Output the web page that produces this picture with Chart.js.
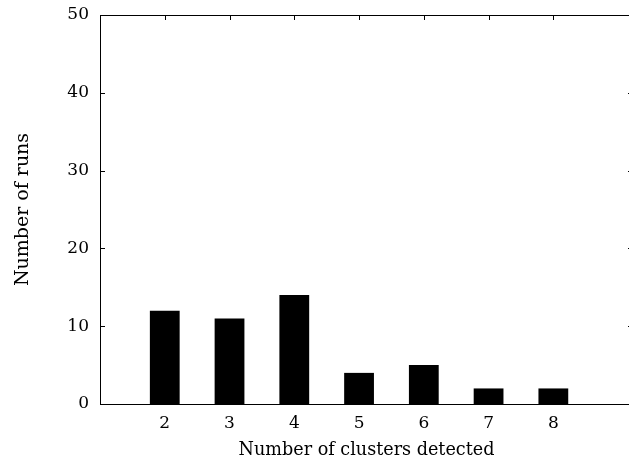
<!DOCTYPE html>
<html>
<head>
<meta charset="utf-8">
<script src="https://cdn.jsdelivr.net/npm/chart.js@4"></script>
<style>
  html, body { margin: 0; padding: 0; background: #fff; overflow: hidden; }
</style>
</head>
<body>
<canvas id="stage" width="636" height="464"></canvas>
<script>
// データ
var clusters = [2, 3, 4, 5, 6, 7, 8];
var runs = [12, 11, 14, 4, 5, 2, 2];
var yTicks = [0, 10, 20, 30, 40, 50];

var serif = "'DejaVu Serif', 'Liberation Serif', serif";

// 内向きの目盛りと枠
var frame = {
    id: 'frame',
    afterDraw: function (chart) {
        var ctx = chart.ctx, a = chart.chartArea;
        var xs = chart.scales.x, ys = chart.scales.y;
        var len = 5;
        ctx.save();
        ctx.strokeStyle = '#000';
        ctx.lineWidth = 1;
        ctx.beginPath();
        ctx.rect(Math.round(a.left) + 0.5, Math.round(a.top) + 0.5,
                 Math.round(a.right - a.left), Math.round(a.bottom - a.top));
        xs.ticks.forEach(function (t) {
            var px = Math.round(xs.getPixelForValue(t.value)) + 0.5;
            ctx.moveTo(px, a.top); ctx.lineTo(px, a.top + len);
            ctx.moveTo(px, a.bottom); ctx.lineTo(px, a.bottom - len);
        });
        ys.ticks.forEach(function (t) {
            var py = Math.round(ys.getPixelForValue(t.value)) + 0.5;
            ctx.moveTo(a.left, py); ctx.lineTo(a.left + len, py);
            ctx.moveTo(a.right, py); ctx.lineTo(a.right - len, py);
        });
        ctx.stroke();
        ctx.restore();
    }
};

var canvas = document.getElementById('stage');
var chart = new Chart(canvas, {
    type: 'bar',
    data: {
        datasets: [{
            label: 'runs',
            data: clusters.map(function (c, i) { return { x: c, y: runs[i] }; }),
            backgroundColor: '#000',
            borderWidth: 0,
            barPercentage: 0.46,
            categoryPercentage: 1
        }]
    },
    options: {
        responsive: false,
        animation: false,
        layout: { padding: { top: 15, right: 3, left: 12, bottom: 0 } },
        plugins: { legend: { display: false }, tooltip: { enabled: false } },
        scales: {
            x: {
                type: 'linear',
                offset: false,
                min: 1,
                max: 9.23,
                afterBuildTicks: function (s) {
                    s.ticks = clusters.map(function (c) { return { value: c }; });
                },
                afterFit: function (s) { s.height = 60; },
                grid: { display: false, drawTicks: false },
                border: { display: false },
                ticks: {
                    color: '#000',
                    font: { family: serif, size: 17 },
                    padding: 9,
                    maxRotation: 0
                },
                title: {
                    display: true,
                    text: 'Number of clusters detected',
                    color: '#000',
                    font: { family: serif, size: 17.6 },
                    padding: { top: 0, bottom: 3 }
                }
            },
            y: {
                min: 0,
                max: 50,
                afterBuildTicks: function (s) {
                    s.ticks = yTicks.map(function (v) { return { value: v }; });
                },
                afterFit: function (s) {
                    s.width = 88;
                    s.paddingTop = 0;
                    s.paddingBottom = 0;
                },
                grid: { display: false, drawTicks: false },
                border: { display: false },
                ticks: {
                    color: '#000',
                    font: { family: serif, size: 17 },
                    padding: 11
                },
                title: {
                    display: true,
                    text: 'Number of runs',
                    color: '#000',
                    font: { family: serif, size: 19 },
                    padding: { top: 0, bottom: 0 }
                }
            }
        }
    },
    plugins: [frame]
});
</script>
</body>
</html>
